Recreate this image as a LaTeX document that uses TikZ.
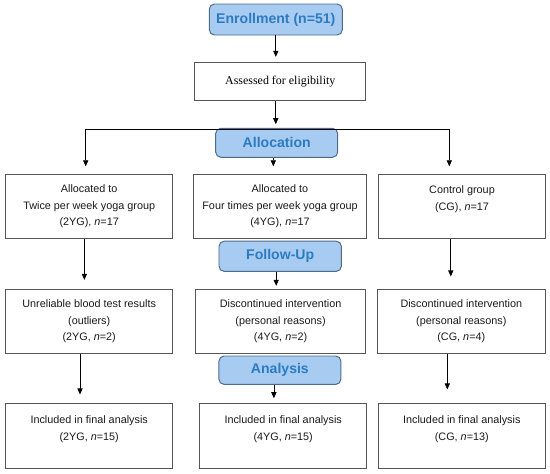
\documentclass[tikz,border=0pt]{standalone}
\usepackage{fontspec}
\setmainfont{Liberation Sans}
\newfontfamily\timesface{Liberation Serif}
\usetikzlibrary{arrows.meta}
\definecolor{phasefill}{HTML}{A8CBF2}
\definecolor{phaseline}{HTML}{4E6B8C}
\definecolor{phasetext}{HTML}{2C7BC1}
\definecolor{boxline}{HTML}{555555}

\begin{document}
\begin{tikzpicture}[x=.25mm,y=-.25mm,
  phase/.style={draw=phaseline,fill=phasefill,rounded corners=1.3mm,line width=.7pt,
    text=phasetext,font=\fontsize{10}{12}\selectfont\bfseries,inner sep=0pt},
  groupbox/.style={draw=boxline,line width=.7pt,align=center,text=black!90,
    font=\fontsize{7.7}{11.7}\selectfont,minimum height=16.15mm,inner sep=0pt},
  arr/.style={-{Triangle[length=1.5mm,width=1.3mm]},line width=.5pt}]
\useasboundingbox (0,0) rectangle (550,474);
% phases
\node[phase,minimum width=33.25mm,minimum height=7.75mm] (enrol) at (275.8,19.5) {Enrollment (n=51)};
\node[draw=boxline,line width=.7pt,minimum width=42.7mm,minimum height=9.6mm,inner sep=0pt,
  font=\timesface\fontsize{8.5}{10}\selectfont] (assess) at (280.3,81.5) {Assessed for eligibility};
\node[phase,minimum width=30.5mm,minimum height=7.25mm] (alloc) at (276.7,142.8) {Allocation};
\node[phase,minimum width=30.6mm,minimum height=7.55mm] (follow) at (280.2,256.3) {Follow-Up};
\node[phase,minimum width=30.5mm,minimum height=7.1mm] (analysis) at (279.9,370.2) {Analysis};
% allocation row
\node[groupbox,minimum width=41.75mm] (twice) at (89.2,206.3) {Allocated to\\Twice per week yoga group\\(2YG), \textit{n}=17};
\node[groupbox,minimum width=43.35mm] (four) at (280,206.3) {Allocated to\\Four times per week yoga group\\(4YG), \textit{n}=17};
\node[groupbox,minimum width=41.85mm] (ctrl) at (462,206.3) {Control group\\(CG), \textit{n}=17\\\mbox{}};
% follow-up row
\node[groupbox,minimum width=41.75mm] (twiceout) at (89.2,321.6) {Unreliable blood test results\\(outliers)\\(2YG, \textit{n}=2)};
\node[groupbox,minimum width=42.55mm] (fourout) at (280.6,321.6) {Discontinued intervention\\(personal reasons)\\(4YG, \textit{n}=2)};
\node[groupbox,minimum width=42mm] (ctrlout) at (461.3,321.6) {Discontinued intervention\\(personal reasons)\\(CG, \textit{n}=4)};
% analysis row
\node[groupbox,minimum width=41.75mm] (twicefin) at (89.2,436.2) {Included in final analysis\\(2YG, \textit{n}=15)\\\mbox{}};
\node[groupbox,minimum width=41.8mm] (fourfin) at (283.2,436.2) {Included in final analysis\\(4YG, \textit{n}=15)\\\mbox{}};
\node[groupbox,minimum width=41.9mm] (ctrlfin) at (461.8,436.2) {Included in final analysis\\(CG, \textit{n}=13)\\\mbox{}};
% connectors
\coordinate (splitL) at (85.7,128.8);
\coordinate (splitR) at (449.3,128.8);
\draw[arr,shorten >=1.25mm] (enrol) -- (enrol |- assess.north);
\draw[arr,shorten >=.9mm] (enrol |- assess.south) -- (enrol |- alloc.north);
\draw (splitL) -- (splitR);
\draw[arr,shorten >=1.8mm] (splitL) -- (splitL |- twice.north);
\draw[arr,shorten >=1.8mm] (splitR) -- (splitR |- ctrl.north);
\draw[arr,shorten >=1.8mm] ([xshift=-.85mm]alloc.south) -- ([xshift=-.85mm]alloc.south |- four.north);
\draw[arr,shorten >=2.25mm] ([xshift=-1.2mm]twice.south) -- ([xshift=-1.2mm]twiceout.north);
\draw[arr,shorten >=.75mm] ([xshift=-1mm]follow.south) -- ([xshift=-1mm]follow.south |- fourout.north);
\draw[arr,shorten >=3.1mm] ([xshift=-2.8mm]ctrl.south) -- ([xshift=-2.8mm]ctrl.south |- ctrlout.north);
\draw[arr,shorten >=2.25mm] ([xshift=-2.3mm]twiceout.south) -- ([xshift=-2.3mm]twicefin.north);
\draw[arr,shorten >=1.3mm] ([xshift=-1.5mm]analysis.south) -- ([xshift=-1.5mm]analysis.south |- fourfin.north);
\draw[arr,shorten >=3.5mm] ([xshift=-3.5mm]ctrlout.south) -- ([xshift=-3.5mm]ctrlout.south |- ctrlfin.north);
\end{tikzpicture}
\end{document}
